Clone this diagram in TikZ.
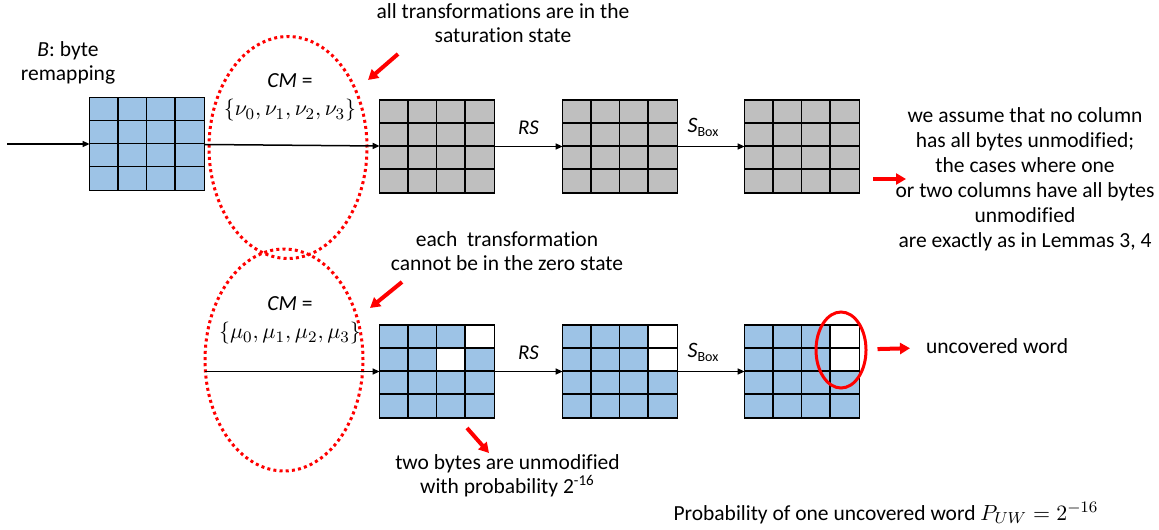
\documentclass[tikz,border=0pt]{standalone}
\usepackage{fontspec}
\setmainfont{Carlito}[Ligatures=NoCommon]
\usetikzlibrary{arrows.meta,shapes.geometric}
\definecolor{cellblue}{HTML}{9DC3E6}
\definecolor{cellgray}{HTML}{BFBFBF}
\begin{document}
\begin{tikzpicture}[x=0.5pt,y=-0.5pt,
		statebox/.style={minimum width=57pt,minimum height=46pt,inner sep=0pt},
		flow/.style={-{Triangle[length=3.5pt,width=3pt]},line width=0.75pt},
		pointer/.style={-{Triangle[length=5pt,width=5.5pt]},line width=2pt,red},
		zone/.style={ellipse,draw=red,line width=1.5pt,dash pattern=on 1.5pt off 1.6pt,minimum width=79pt,minimum height=111pt},
		note/.style={align=center,font=\fontsize{10.75}{12}\selectfont},
		cmlbl/.style={align=center,font=\fontsize{10.75}{14}\selectfont},
		rslbl/.style={above=2pt,font=\fontsize{10.5}{12}\selectfont\itshape},
		sboxlbl/.style={above=1pt,xshift=-4pt,font=\fontsize{11}{13}\selectfont}]
	\useasboundingbox (0,0) rectangle (1159,529);
	\node[statebox,fill=cellblue] (g1) at (147,144) {};
	\node[statebox,fill=cellgray] (g2) at (437,146.5) {};
	\node[statebox,fill=cellgray] (g3) at (620,146.5) {};
	\node[statebox,fill=cellgray] (g4) at (802,146.5) {};
	\node[statebox,fill=cellblue] (h1) at (437,371.5) {};
	\node[statebox,fill=cellblue] (h2) at (620,371.5) {};
	\node[statebox,fill=cellblue] (h3) at (802,371.5) {};
	\foreach \g/\r/\c in {h1/0/3,h1/1/2,h2/0/3,h2/1/3,h3/0/3,h3/1/3}
		\fill[white] (\g.north west) ++(28.5*\c,23*\r) rectangle ++(28.5,23);
	\foreach \g in {g1,g2,g3,g4,h1,h2,h3} {
		\foreach \k in {1,2,3} {
			\draw[line width=0.75pt] (\g.north west) ++(28.5*\k,0) -- ++(0,92);
			\draw[line width=0.75pt] (\g.north west) ++(0,23*\k) -- ++(114,0);
		}
		\draw[line width=0.75pt] (\g.north west) rectangle (\g.south east);
	}
	\node[zone] (e1) at (288,147.5) {};
	\node[zone] (e2) at (284,360) {};
	\node[ellipse,draw=red,line width=1.5pt,minimum width=25pt,minimum height=38pt] (e3) at (841,350) {};
	\node[note] (tB) at (68,63) {\textit{B}: byte\\remapping};
	\node[note] (t1) at (503,23) {all transformations are in the\\saturation state};
	\node[cmlbl] (cm1) at (290,97.5) {\textit{CM} =\\$\{\nu_0,\nu_1,\nu_2,\nu_3\}$};
	\node[note] (t2) at (507,251) {each\ \ transformation\\cannot be in the zero state};
	\node[cmlbl] (cm2) at (290,320.5) {\textit{CM} =\\$\{\mu_0,\mu_1,\mu_2,\mu_3\}$};
	\node[note,font=\fontsize{10.75}{12.5}\selectfont] (t3) at (1025,179.5) {we assume that no column\\has all bytes unmodified;\\the cases where one\\or two columns have all bytes\\unmodified\\are exactly as in Lemmas 3, 4};
	\node[note,anchor=west] (word) at (919,346) {uncovered word};
	\node[note] (t4) at (507.5,476) {two bytes are unmodified\\with probability 2\textsuperscript{-16}};
	\node[note] (prob) at (886,513) {Probability of one uncovered word $P_{UW} = 2^{-16}$};
	\coordinate (in1) at (7,144);
	\coordinate (in2) at (205,371.5);
	\draw[flow] (in1) -- (g1);
	\draw[flow] (g1) -- (g2);
	\draw[flow] (g2) -- node[rslbl] {RS} (g3);
	\draw[flow] (g3) -- node[sboxlbl] {\textit{S}\raisebox{-2pt}{\fontsize{7}{8}\selectfont Box}} (g4);
	\draw[flow] (in2) -- (h1);
	\draw[flow] (h1) -- node[rslbl] {RS} (h2);
	\draw[flow] (h2) -- node[sboxlbl] {\textit{S}\raisebox{-2pt}{\fontsize{7}{8}\selectfont Box}} (h3);
	\coordinate (p1a) at (398,54);
	\coordinate (p1b) at (368,80);
	\coordinate (p2a) at (873,179);
	\coordinate (p2b) at (906,179);
	\coordinate (p3a) at (402,282);
	\coordinate (p3b) at (370,308);
	\coordinate (p4a) at (467,428);
	\coordinate (p4b) at (489,453);
	\draw[pointer] (p1a) -- (p1b);
	\draw[pointer] (p2a) -- (p2b);
	\draw[pointer] (p3a) -- (p3b);
	\draw[pointer] (p4a) -- (p4b);
	\draw[pointer,shorten <=5pt,shorten >=4.5pt] (e3) -- (word);
\end{tikzpicture}
\end{document}
